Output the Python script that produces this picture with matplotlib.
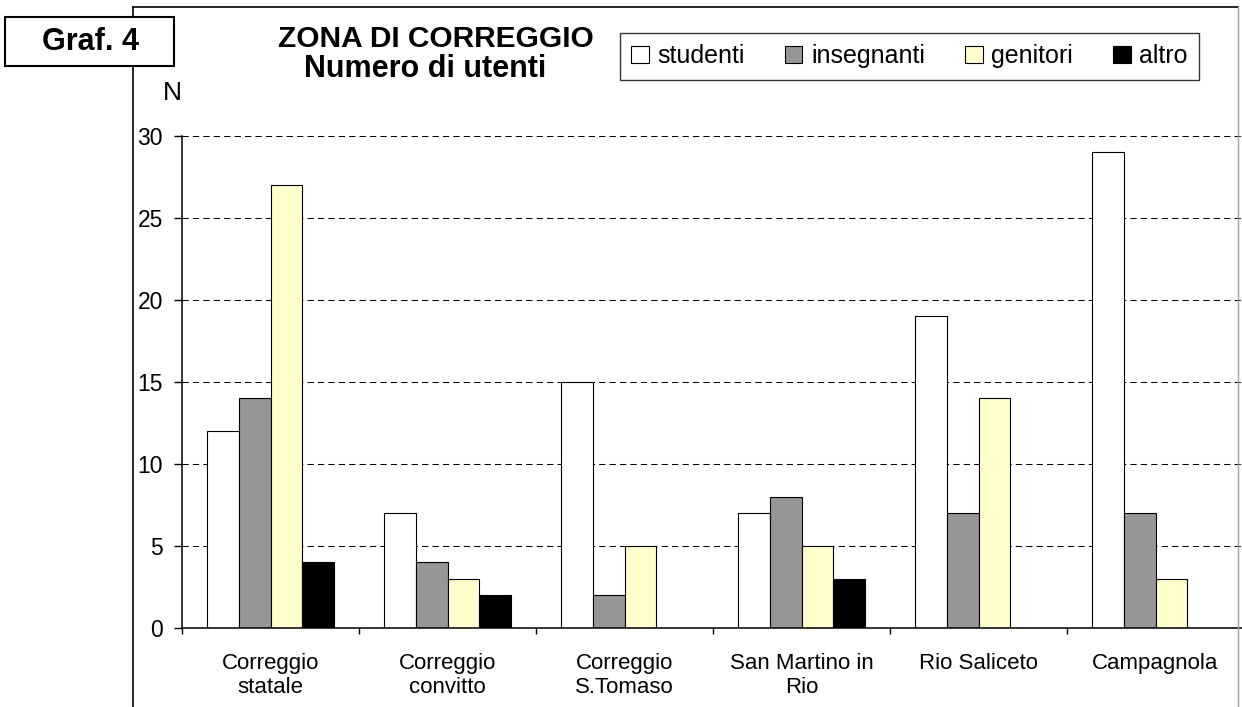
import numpy as np
import matplotlib
matplotlib.use("Agg")
import matplotlib.pyplot as plt
from matplotlib.lines import Line2D
from matplotlib.patches import Rectangle

plt.rcParams['font.family'] = ['Liberation Sans', 'DejaVu Sans']

# data
schools = ['Correggio\nstatale', 'Correggio\nconvitto', 'Correggio\nS.Tomaso',
           'San Martino in\nRio', 'Rio Saliceto', 'Campagnola']
series = ['studenti', 'insegnanti', 'genitori', 'altro']
studenti = [12, 7, 15, 7, 19, 29]
insegnanti = [14, 4, 2, 8, 7, 7]
genitori = [27, 3, 5, 5, 14, 3]
altro = [4, 2, 0, 3, 0, 0]
colors = ['#FFFFFF', '#969696', '#FFFFCC', '#000000']

W, H = 1242, 707
fig = plt.figure(figsize=(W / 100, H / 100), dpi=100)


def fx(px):
    return px / W


def fy(py):
    return 1 - py / H


# outer chart frame (only left/top and part of right visible)
fig.add_artist(Line2D([fx(133), fx(133)], [fy(7), 0], color='black', lw=1.2, zorder=1))
fig.add_artist(Line2D([fx(133), fx(1238)], [fy(7), fy(7)], color='black', lw=1.2, zorder=1))
fig.add_artist(Line2D([fx(1238), fx(1238)], [fy(7), 0], color='#a0a0a0', lw=1.0, zorder=1))

ax = fig.add_axes([fx(182), fy(628), fx(1244) - fx(182), fy(136) - fy(628)])

x = np.arange(len(schools)) + 0.5
w = 0.18
for k, (vals, name) in enumerate(zip([studenti, insegnanti, genitori, altro], series)):
    ax.bar(x + (k - 1.5) * w, vals, width=w, color=colors[k], edgecolor='black',
           linewidth=0.8, label=name, zorder=3)

ax.set_xlim(0, len(schools))
ax.set_ylim(0, 30)
ax.set_yticks(range(0, 31, 5))
ax.set_xticks(x)
ax.set_xticklabels(schools, fontsize=16)
ax.set_xticks(np.arange(len(schools) + 1), minor=True)
ax.tick_params(axis='x', which='major', length=0, pad=18)
ax.tick_params(axis='x', which='minor', length=4.5, width=1, direction='out')
ax.tick_params(axis='y', labelsize=16.5, length=5.8, width=1, direction='out', pad=8)

ax.yaxis.grid(True, color='black', linestyle=(0, (6, 4)), linewidth=0.75, zorder=0)
for s in ['top', 'right']:
    ax.spines[s].set_visible(False)
for s in ['left', 'bottom']:
    ax.spines[s].set_linewidth(1.1)
    ax.spines[s].set_zorder(4)
ax.set_facecolor('none')

leg = fig.legend(loc='upper left', bbox_to_anchor=(fx(620), fy(33)), ncol=4,
                 fontsize=18, frameon=True, fancybox=False, borderaxespad=0,
                 handlelength=0.7, handleheight=0.7, handletextpad=0.35,
                 columnspacing=1.6, borderpad=0.45)
leg.get_frame().set_edgecolor('black')
leg.get_frame().set_linewidth(1.0)

# titles and labels
fig.text(fx(436), fy(47), 'ZONA DI CORREGGIO', fontsize=21.5, fontweight='bold',
         ha='center', va='baseline')
fig.text(fx(425), fy(77), 'Numero di utenti', fontsize=22, fontweight='bold',
         ha='center', va='baseline')
fig.text(fx(172), fy(100), 'N', fontsize=19, ha='center', va='baseline')

fig.add_artist(Rectangle((fx(5), fy(66)), fx(174) - fx(5), fy(17) - fy(66),
                         facecolor='white', edgecolor='black', lw=1.5,
                         transform=fig.transFigure, zorder=5))
fig.text(fx(90), fy(41.5), 'Graf. 4', fontsize=22, fontweight='bold',
         ha='center', va='center', zorder=6)

fig.savefig('out.png', dpi=100)
